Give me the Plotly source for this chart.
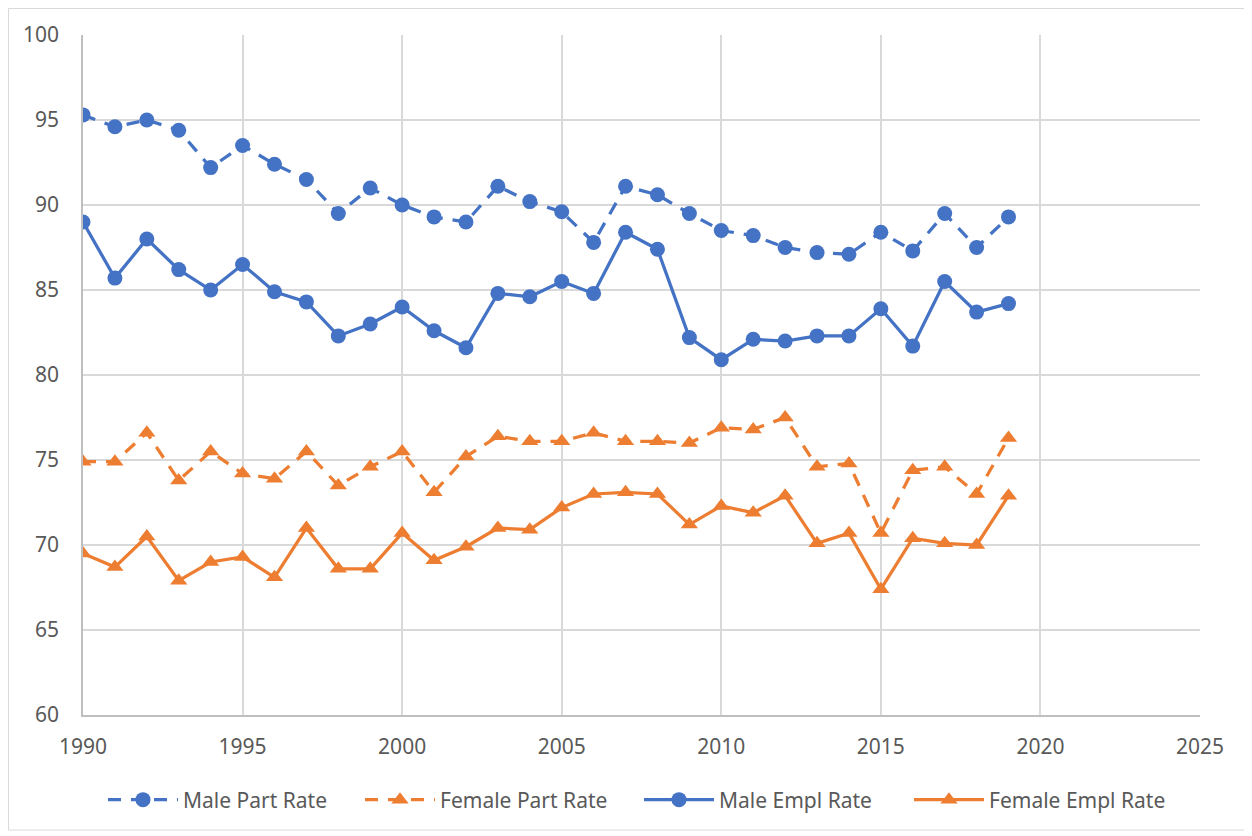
import plotly.graph_objects as go

years = list(range(1990, 2020))

male_part = [95.3, 94.6, 95.0, 94.4, 92.2, 93.5, 92.4, 91.5, 89.5, 91.0,
             90.0, 89.3, 89.0, 91.1, 90.2, 89.6, 87.8, 91.1, 90.6, 89.5,
             88.5, 88.2, 87.5, 87.2, 87.1, 88.4, 87.3, 89.5, 87.5, 89.3]
female_part = [74.9, 74.9, 76.6, 73.8, 75.5, 74.2, 73.9, 75.5, 73.5, 74.6,
               75.5, 73.1, 75.2, 76.4, 76.1, 76.1, 76.6, 76.1, 76.1, 76.0,
               76.9, 76.8, 77.5, 74.6, 74.8, 70.7, 74.4, 74.6, 73.0, 76.3]
male_empl = [89.0, 85.7, 88.0, 86.2, 85.0, 86.5, 84.9, 84.3, 82.3, 83.0,
             84.0, 82.6, 81.6, 84.8, 84.6, 85.5, 84.8, 88.4, 87.4, 82.2,
             80.9, 82.1, 82.0, 82.3, 82.3, 83.9, 81.7, 85.5, 83.7, 84.2]
female_empl = [69.5, 68.7, 70.5, 67.9, 69.0, 69.3, 68.1, 71.0, 68.6, 68.6,
               70.7, 69.1, 69.9, 71.0, 70.9, 72.2, 73.0, 73.1, 73.0, 71.2,
               72.3, 71.9, 72.9, 70.1, 70.7, 67.4, 70.4, 70.1, 70.0, 72.9]

series_names = ["Male Part Rate", "Female Part Rate", "Male Empl Rate", "Female Empl Rate"]
BLUE = "#4472C4"
ORANGE = "#ED7D31"
TXT = "#595959"
FONT = "Noto Sans, Open Sans, sans-serif"

# figure sits 8px in from page top-left (body margin)
W, H = 1244, 828
OFF = 8
L, T = 83 - OFF, 35 - OFF
R = W - (1200 - OFF)
B = H - (715 - OFF)
pw, ph = W - L - R, H - T - B

def px2x(px):
    return (px - OFF - L) / pw

def py2y(py):
    return (H - B - (py - OFF)) / ph

legend_ids = ["legend", "legend2", "legend3", "legend4"]
legend_x = [103, 360, 639, 909]

fig = go.Figure()
specs = [
    (male_part, series_names[0], BLUE, "13px,10px", "circle", 15),
    (female_part, series_names[1], ORANGE, "13px,10px", "triangle-up", 15),
    (male_empl, series_names[2], BLUE, "solid", "circle", 15),
    (female_empl, series_names[3], ORANGE, "solid", "triangle-up", 15),
]
for (vals, name, col, dash, sym, sz), lg in zip(specs, legend_ids):
    fig.add_trace(go.Scatter(
        x=years, y=vals, name=name, mode="lines+markers",
        line=dict(color=col, width=3.25, dash=dash),
        marker=dict(color=col, symbol=sym, size=sz, line=dict(width=0)),
        legend=lg,
    ))

fig.add_shape(type="rect", xref="paper", yref="paper",
              x0=px2x(OFF + 0.5), x1=px2x(1245), y0=py2y(830), y1=py2y(OFF + 0.5),
              line=dict(color="#D9D9D9", width=1), fillcolor="rgba(0,0,0,0)", layer="below")

legend_common = dict(orientation="h", xanchor="left", yanchor="middle",
                     y=py2y(800), font=dict(family=FONT, size=21, color=TXT),
                     itemwidth=70, bgcolor="rgba(0,0,0,0)")

layout_legends = {}
for lg, lx in zip(legend_ids, legend_x):
    layout_legends[lg] = dict(legend_common, x=px2x(lx))

fig.update_layout(
    width=W, height=H,
    margin=dict(l=L, r=R, t=T, b=B),
    paper_bgcolor="white", plot_bgcolor="white",
    font=dict(family=FONT, size=21, color=TXT),
    xaxis=dict(range=[1990, 2025], tickmode="linear", tick0=1990, dtick=5,
               showgrid=True, gridcolor="#D9D9D9", gridwidth=1.5,
               showline=True, linecolor="#BFBFBF", linewidth=1.5,
               zeroline=False, ticks="", ticklabelstandoff=12,
               tickfont=dict(family=FONT, size=21, color=TXT)),
    yaxis=dict(range=[60, 100], tickmode="linear", tick0=60, dtick=5,
               showgrid=True, gridcolor="#D9D9D9", gridwidth=1.5,
               showline=True, linecolor="#BFBFBF", linewidth=1.5,
               zeroline=False, ticks="", ticklabelstandoff=18,
               tickfont=dict(family=FONT, size=21, color=TXT)),
    showlegend=True,
    **layout_legends,
)

fig.write_html("out.html")
